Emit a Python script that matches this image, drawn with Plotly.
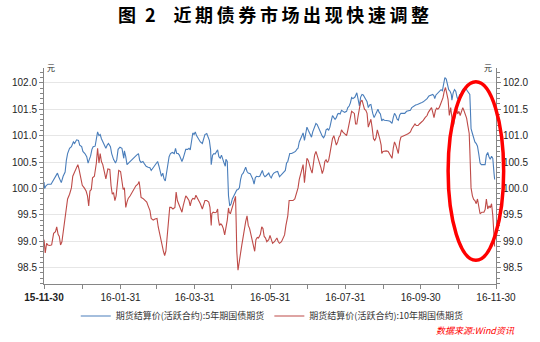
import pandas as pd
import plotly.graph_objects as go

# Settlement prices of the most active treasury futures contracts (yuan),
# indexed by calendar days since 2015-11-30.
START = "2015-11-30"

tf5_day = [
    0.0, 0.5, 1.6, 3.1, 5.7, 7.8, 9.3, 10.9, 11.9, 12.9,
    14.0, 15.5, 17.1, 18.1, 19.1, 20.7, 22.2, 23.8, 24.8, 26.4,
    27.9, 28.9, 30.5, 31.5, 33.1, 34.6, 35.7, 36.7, 37.7, 38.8,
    39.8, 41.4, 42.4, 43.4, 44.5, 45.5, 46.5, 47.6, 48.6, 50.1,
    51.2, 52.2, 53.8, 54.8, 56.3, 57.9, 58.9, 60.0, 61.5, 63.1,
    64.6, 65.1, 66.2, 67.2, 68.8, 70.8, 72.9, 75.0, 76.5, 77.5,
    78.6, 80.1, 81.2, 82.7, 84.3, 85.8, 86.8, 88.4, 89.4, 91.0,
    92.0, 93.1, 94.1, 95.1, 96.2, 97.2, 98.2, 99.3, 100.3, 101.3,
    102.4, 103.9, 105.5, 106.5, 107.5, 108.6, 109.6, 110.6, 111.7, 112.7,
    113.7, 114.8, 116.3, 117.4, 118.4, 119.4, 120.5, 121.5,
    122.5, 123.5, 125.1, 126.6, 128.2, 129.2, 130.3, 131.8, 132.8, 133.9,
    134.9, 135.4, 136.5, 137.5, 138.5, 139.6, 140.6, 141.6, 142.7, 143.7,
    144.7, 145.8, 146.8, 147.3, 148.4, 149.4, 150.4, 151.5, 152.5, 154.0,
    155.1, 156.1, 157.1, 158.2, 159.2, 160.2, 161.3, 162.3, 163.3, 164.4,
    165.4, 167.0, 168.0, 169.0, 170.1, 171.1, 172.1, 173.7, 174.7, 175.8,
    176.8, 177.8, 178.9, 179.9, 180.9, 182.0, 183.0, 184.0, 185.1, 186.1,
    187.6, 189.2, 190.7, 192.3, 193.8, 195.4, 196.4, 197.4, 199.0, 200.5,
    202.1, 203.6, 204.7, 205.7, 206.7, 207.8, 208.8, 209.8, 210.9, 211.9,
    212.9, 214.0, 215.5, 216.6, 217.6, 219.1, 220.2, 221.2, 222.2, 223.3,
    224.3, 225.3, 226.4, 227.4, 228.4, 229.5, 230.5, 231.5, 232.6, 233.6,
    234.7, 235.7, 236.7, 237.8, 238.8, 239.8, 240.9, 241.9, 243.4, 245.0,
    246.0, 247.1, 248.1, 249.1,
    250.2, 251.8, 253.3, 254.4, 255.4, 256.4, 257.5, 258.5, 259.5, 260.6,
    261.6, 262.6, 263.7, 264.7, 265.2, 266.2, 267.3, 268.3, 269.3, 270.4,
    271.4, 272.4, 273.5, 274.5, 275.6, 277.1, 278.7, 280.2, 281.8, 282.8,
    283.8, 284.9, 285.9, 286.9, 288.0, 289.0, 290.5, 292.1, 293.6, 295.2,
    296.7, 297.8, 299.3, 300.9, 302.4, 304.0, 305.5, 307.1, 308.6, 310.2,
    311.7, 313.3, 314.8, 315.8, 316.4, 317.4, 318.9, 320.5, 321.5, 322.6,
    323.6, 324.6, 325.7, 326.7, 327.7, 328.8, 329.8, 330.3, 331.3, 332.4,
    333.4, 334.5, 335.5, 336.5, 337.6, 338.6, 339.6, 340.7, 341.7, 342.7,
    343.8, 344.8, 345.3, 345.8, 346.9, 347.9, 348.9, 350.0, 351.0, 352.0,
    353.1, 354.1, 355.6, 357.2, 358.2, 359.3, 360.3, 361.3, 362.4, 363.4,
    364.4, 364.9,
]
tf5_price = [
    100.12, 100.00, 100.05, 100.08, 100.08, 100.17, 100.22, 100.29, 100.22, 100.16,
    100.11, 100.23, 100.31, 100.53, 100.66, 100.76, 100.79, 100.88, 100.85, 100.92,
    100.91, 100.82, 100.79, 100.70, 100.66, 100.60, 100.48, 100.55, 100.61, 100.74,
    100.79, 100.80, 100.91, 101.07, 101.00, 101.02, 100.94, 100.88, 100.82, 100.76,
    100.82, 100.85, 100.79, 100.66, 100.55, 100.48, 100.54, 100.74, 100.78, 100.76,
    100.57, 100.71, 100.60, 100.45, 100.49, 100.54, 100.59, 100.63, 100.66, 100.53,
    100.49, 100.51, 100.47, 100.42, 100.40, 100.39, 100.34, 100.39, 100.43, 100.49,
    100.51, 100.42, 100.31, 100.23, 100.29, 100.18, 100.14, 100.29, 100.48, 100.60,
    100.66, 100.68, 100.66, 100.76, 100.66, 100.66, 100.63, 100.57, 100.51, 100.57,
    100.66, 100.74, 100.74, 100.76, 100.73, 100.94, 101.05, 101.02,
    101.07, 101.00, 100.94, 100.88, 100.85, 100.94, 101.02, 101.04, 100.99, 100.91,
    100.73, 100.45, 100.63, 100.66, 100.65, 100.70, 100.73, 100.60, 100.57, 100.63,
    100.54, 100.48, 100.42, 100.55, 100.51, 99.86, 99.67, 99.71, 99.80, 99.86,
    99.92, 99.97, 99.98, 100.01, 100.17, 100.26, 100.29, 100.36, 100.40, 100.32,
    100.29, 100.28, 100.24, 100.18, 100.08, 100.20, 100.23, 100.22, 100.23, 100.31,
    100.34, 100.26, 100.22, 100.24, 100.26, 100.29, 100.23, 100.20, 100.26, 100.29,
    100.31, 100.32, 100.22, 100.26, 100.31, 100.34, 100.48, 100.51, 100.66, 100.66,
    100.68, 100.70, 100.74, 100.76, 100.88, 100.94, 100.99, 101.05, 100.91, 101.05,
    101.16, 101.10, 101.02, 100.97, 101.07, 101.19, 101.23, 101.21, 101.15, 101.10,
    101.05, 100.99, 100.96, 101.00, 101.11, 101.13, 101.10, 101.16, 101.28, 101.38,
    101.34, 101.31, 101.34, 101.41, 101.42, 101.41, 101.48, 101.47, 101.44, 101.46,
    101.53, 101.56, 101.62, 101.72,
    101.70, 101.73, 101.81, 101.68, 101.56, 101.73, 101.78, 101.77, 101.73, 101.68,
    101.64, 101.53, 101.58, 101.59, 101.50, 101.42, 101.34, 101.39, 101.47, 101.50,
    101.44, 101.41, 101.28, 101.31, 101.29, 101.29, 101.28, 101.27, 101.23, 101.34,
    101.42, 101.38, 101.31, 101.29, 101.39, 101.42, 101.42, 101.42, 101.46, 101.47,
    101.48, 101.53, 101.56, 101.58, 101.59, 101.60, 101.62, 101.64, 101.67, 101.70,
    101.75, 101.77, 101.78, 101.75, 101.70, 101.77, 101.81, 101.84, 101.87, 101.85,
    101.96, 102.10, 102.07, 101.96, 101.87, 101.84, 101.78, 101.67, 101.81, 101.87,
    101.84, 101.72, 101.68, 101.77, 101.79, 101.85, 101.89, 101.90, 101.89, 101.85,
    101.81, 101.78, 101.47, 101.13, 101.04, 100.94, 100.88, 100.85, 100.80, 100.66,
    100.48, 100.45, 100.45, 100.45, 100.63, 100.68, 100.60, 100.55, 100.61, 100.57,
    100.29, 100.17,
]

tf10_day = [
    0.0, 0.5, 1.0, 2.1, 3.1, 4.7, 6.2, 7.8, 9.3, 10.3,
    11.4, 12.4, 13.4, 14.5, 15.5, 17.1, 18.1, 19.1, 20.7, 22.2,
    23.3, 24.3, 25.3, 26.4, 27.4, 28.4, 29.5, 31.0, 32.6, 34.1,
    35.2, 36.2, 37.2, 38.3, 39.3, 40.8, 42.4, 43.4, 44.5, 45.5,
    46.5, 47.6, 49.1, 50.1, 51.7, 53.3, 54.3, 55.3, 56.3, 57.4,
    58.4, 59.5, 60.5, 62.0, 63.1,
    64.1, 65.1, 66.2, 67.2, 68.2, 69.8, 71.3, 72.9, 74.4, 76.0,
    77.0, 77.5, 78.6, 80.1, 81.7, 83.2, 84.3, 85.8, 86.8, 88.4,
    89.9, 91.5, 92.5, 93.6, 94.6, 95.6, 96.7, 97.7, 98.7, 99.8,
    100.8, 101.8, 102.9, 104.4, 106.0, 107.0, 108.0, 109.1, 110.6, 111.7,
    112.7, 113.7, 114.8, 115.8, 117.4, 118.4, 119.4, 120.5, 122.0, 123.0,
    124.6,
    125.6, 126.6, 128.2, 129.2, 130.3, 131.8, 133.4, 134.4, 135.4, 135.9,
    137.0, 138.5, 139.6, 140.6, 141.1, 142.1, 143.2, 144.2, 145.2, 146.3,
    147.3, 148.4, 149.4, 149.9, 150.9, 152.0, 153.0, 154.0, 155.1, 155.6,
    156.1, 157.1, 158.2, 159.2, 160.2, 161.3, 162.3, 163.3, 164.4, 165.4,
    166.5, 167.5, 168.5, 169.6, 170.6, 171.6, 172.7, 173.7, 175.2, 176.3,
    177.3, 178.3, 179.4, 180.4, 182.0, 183.0, 184.0, 185.1, 186.6,
    187.6, 188.6, 189.7, 190.7, 192.3, 193.8, 194.8, 195.9, 196.9, 197.4,
    198.5, 200.0, 201.6, 203.1, 204.1, 204.7, 205.7, 206.7, 207.8, 208.8,
    209.8, 210.9, 211.9, 212.9, 214.0, 215.0, 216.0, 217.1, 218.1, 219.1,
    220.2, 221.2, 222.2, 223.3, 224.3, 225.3, 226.4, 227.4, 228.4, 229.5,
    230.5, 231.5, 232.6, 233.6, 234.7, 235.7, 236.7, 237.8, 238.8, 239.8,
    240.9, 241.9, 243.0, 244.0, 245.0, 246.0, 247.1, 248.1, 249.1,
    250.2, 251.3, 252.3, 253.3, 254.4, 255.4, 256.4, 257.5, 258.5, 259.5,
    260.6, 261.6, 262.6, 263.7, 264.7, 265.7, 266.8, 267.8, 268.8, 269.9,
    270.9, 271.9, 273.0, 273.5, 274.5, 275.6, 277.1, 278.7, 279.7, 280.7,
    281.8, 282.8, 283.8, 284.9, 285.9, 286.9, 288.0, 289.0, 290.5, 292.1,
    293.6, 295.2, 296.7, 297.8, 299.3, 300.4, 301.4, 302.9, 304.0, 305.5,
    307.1, 308.6, 310.2, 311.2,
    312.2, 313.8, 314.8, 315.8, 316.9, 317.9, 318.9, 320.0, 321.0, 322.0,
    323.1, 324.1, 325.1, 326.2, 327.2, 328.2, 329.3, 330.3, 330.8, 331.9,
    332.9, 333.9, 335.0, 336.0, 337.0, 338.1, 339.1, 340.1, 341.2, 342.2,
    343.2, 344.3, 344.8, 345.3, 345.8, 346.9, 347.9, 348.9, 350.0, 351.0,
    352.0, 353.1, 354.6, 356.2, 357.2, 358.2, 359.3, 360.3, 361.3, 362.4,
    363.4, 364.4, 364.9,
]
tf10_price = [
    99.03, 98.80, 98.78, 98.96, 98.93, 98.92, 98.93, 99.15, 99.18, 99.27,
    99.13, 99.09, 98.93, 98.99, 99.18, 99.43, 99.61, 99.80, 99.89, 100.01,
    100.23, 100.29, 100.36, 100.39, 100.45, 100.36, 100.23, 100.06, 100.01, 99.95,
    99.86, 99.67, 99.95, 99.98, 100.20, 100.23, 100.48, 100.76, 100.48, 100.66,
    100.51, 100.45, 100.29, 100.18, 100.37, 100.36, 100.05, 99.89, 99.92, 99.77,
    99.86, 100.11, 100.34, 100.32, 100.12,
    99.98, 100.01, 99.64, 99.74, 99.81, 99.86, 99.93, 99.98, 100.05, 100.08,
    100.13, 100.05, 99.83, 99.81, 99.77, 99.74, 99.67, 99.58, 99.43, 99.40,
    99.42, 99.43, 99.27, 99.12, 99.03, 98.93, 98.81, 98.73, 98.81, 99.12,
    99.33, 99.64, 99.64, 99.61, 99.64, 99.93, 99.77, 99.71, 99.63, 99.55,
    99.67, 99.74, 99.86, 99.83, 99.77, 99.67, 99.77, 99.81, 99.80, 99.87,
    99.80,
    99.77, 99.71, 99.61, 99.71, 99.77, 99.77, 99.74, 99.64, 99.30, 99.52,
    99.55, 99.54, 99.55, 99.61, 99.43, 99.30, 99.33, 99.30, 99.24, 99.12,
    99.24, 99.40, 99.63, 99.55, 99.52, 99.61, 99.67, 99.77, 99.85, 99.37,
    98.81, 98.45, 98.59, 98.78, 98.93, 99.12, 99.24, 99.37, 99.48, 99.30,
    99.24, 99.12, 99.06, 98.93, 98.81, 99.03, 99.07, 99.06, 99.13, 99.27,
    99.24, 99.09, 99.06, 98.99, 99.03, 99.11, 99.03, 98.96, 98.99,
    99.03, 99.06, 98.99, 98.96, 98.99, 99.06, 99.12, 99.30, 99.43, 99.48,
    99.77, 99.77, 99.77, 99.80, 99.87, 99.92, 100.01, 100.17, 100.26, 100.39,
    100.45, 100.11, 100.32, 100.57, 100.53, 100.43, 100.36, 100.29, 100.48, 100.63,
    100.70, 100.63, 100.55, 100.48, 100.39, 100.28, 100.36, 100.51, 100.54, 100.49,
    100.53, 100.66, 100.85, 100.94, 101.00, 100.92, 100.82, 100.88, 100.97, 101.00,
    101.11, 101.07, 101.04, 101.02, 101.00, 101.10, 101.25, 101.38, 101.46,
    101.44, 101.42, 101.22, 101.22, 101.38, 101.56, 101.64, 101.67, 101.59, 101.50,
    101.48, 101.42, 101.16, 101.23, 101.31, 101.15, 100.94, 100.91, 100.96, 101.11,
    101.04, 100.94, 100.82, 100.66, 100.70, 100.71, 100.71, 100.70, 100.66, 100.60,
    100.57, 100.76, 100.88, 100.82, 100.73, 100.66, 100.88, 100.97, 100.99, 101.00,
    101.02, 101.04, 101.07, 101.13, 101.19, 101.22, 101.19, 101.19, 101.22, 101.25,
    101.29, 101.34, 101.38, 101.44,
    101.47, 101.53, 101.44, 101.34, 101.47, 101.52, 101.50, 101.53, 101.59, 101.64,
    101.72, 101.84, 101.91, 101.79, 101.68, 101.38, 101.53, 101.34, 101.16, 101.22,
    101.44, 101.53, 101.41, 101.46, 101.38, 101.47, 101.53, 101.47, 101.38, 101.33,
    101.19, 101.04, 100.73, 100.36, 100.01, 99.86, 99.79, 99.77, 99.71, 99.80,
    99.67, 99.52, 99.55, 99.55, 99.60, 99.80, 99.61, 99.67, 99.63, 99.71,
    99.49, 99.18, 98.90,
]

series_names = [
    "期货结算价(活跃合约):5年期国债期货",
    "期货结算价(活跃合约):10年期国债期货",
]

# Month-end ticks, labelled every second month
tick_dates = [
    "2015-11-30", "2015-12-31", "2016-01-31", "2016-02-29", "2016-03-31",
    "2016-04-30", "2016-05-31", "2016-06-30", "2016-07-31", "2016-08-31",
    "2016-09-30", "2016-10-31", "2016-11-30",
]
tick_labels = [
    "<b>15-11-30</b>", "", "16-01-31", "", "16-03-31", "", "16-05-31", "",
    "16-07-31", "", "16-09-30", "", "16-11-30",
]

start = pd.Timestamp(START)
x5 = start + pd.to_timedelta(tf5_day, unit="D")
x10 = start + pd.to_timedelta(tf10_day, unit="D")

BLUE = "#4a7ebb"
RED = "#be4b48"
AXIS = "#868686"
GRID = "#e6e6e6"
TXT = "#1e1e1e"
NUM_FONT = "Liberation Sans, Arial, sans-serif"
CJK_FONT = "Noto Sans CJK SC, sans-serif"

# Title with the wide character pitch of the report heading
THIN = "\u2009"
title_text = "图\u20022\u2003" + THIN.join("近期债券市场出现快速调整")

fig = go.Figure()
fig.add_trace(go.Scatter(x=x5, y=tf5_price, mode="lines", name=series_names[0],
                         line=dict(color=BLUE, width=1.1), yaxis="y"))
fig.add_trace(go.Scatter(x=x10, y=tf10_price, mode="lines", name=series_names[1],
                         line=dict(color=RED, width=1.1), yaxis="y2"))

y_range = [98.19, 102.28]
yaxis_common = dict(
    range=y_range, tick0=98.5, dtick=0.5, tickformat=".1f",
    showline=True, linecolor=AXIS, linewidth=1,
    ticks="outside", ticklen=4, tickcolor=AXIS,
    tickfont=dict(family=NUM_FONT, size=10, color=TXT),
    minor=dict(dtick=0.1, ticks="outside", ticklen=3, tickcolor=AXIS, showgrid=False),
    zeroline=False, fixedrange=True,
)

fig.update_layout(
    width=540, height=342,
    margin=dict(l=36, r=32, t=68, b=55),
    paper_bgcolor="white", plot_bgcolor="white",
    title=dict(
        text="<b>" + title_text + "</b>",
        x=273.5 / 540, xref="container", xanchor="center",
        y=1 - 16 / 342, yref="container", yanchor="middle",
        font=dict(family=CJK_FONT, size=18, color="#000000"),
    ),
    xaxis=dict(
        type="date", range=[start, pd.Timestamp("2016-11-30")],
        tickmode="array", tickvals=tick_dates, ticktext=tick_labels,
        showline=True, linecolor=AXIS, linewidth=1,
        ticks="outside", ticklen=4, tickcolor=AXIS,
        tickfont=dict(family=NUM_FONT, size=10, color=TXT),
        showgrid=False, zeroline=False, fixedrange=True,
    ),
    yaxis=dict(side="left", showgrid=True, gridcolor=GRID, gridwidth=1, **yaxis_common),
    yaxis2=dict(side="right", overlaying="y", matches="y", showgrid=False, **yaxis_common),
    showlegend=True,
    legend=dict(
        orientation="h", x=0.505, xanchor="center", y=-0.148, yanchor="middle",
        font=dict(family=CJK_FONT, size=9, color="#333333"),
        bgcolor="rgba(0,0,0,0)", itemwidth=30, tracegroupgap=0,
    ),
)

# Unit labels at the top of both value axes
for xpos, anchor, shift in [(0, "left", 1), (1, "right", -2)]:
    fig.add_annotation(text="元", xref="paper", yref="paper", x=xpos, y=1,
                       xanchor=anchor, yanchor="middle", xshift=shift, yshift=1,
                       showarrow=False, font=dict(family=CJK_FONT, size=8, color=TXT))

# Source note
fig.add_annotation(text="<i>数据来源:Wind资讯</i>", xref="paper", yref="paper",
                   x=(530 - 36) / 472, y=(287 - 334) / 219, xanchor="right", yanchor="middle",
                   showarrow=False, font=dict(family=CJK_FONT, size=9, color="#ff0000"))

# Highlight the sharp sell-off at the end of the period
fig.add_shape(type="circle", xref="paper", yref="paper",
              x0=(458 - 36) / 472, x1=(516 - 36) / 472,
              y0=(287 - 263) / 219, y1=(287 - 82) / 219,
              line=dict(color="#ff0000", width=3.5), fillcolor="rgba(0,0,0,0)", layer="above")

fig.write_html("out.html")
